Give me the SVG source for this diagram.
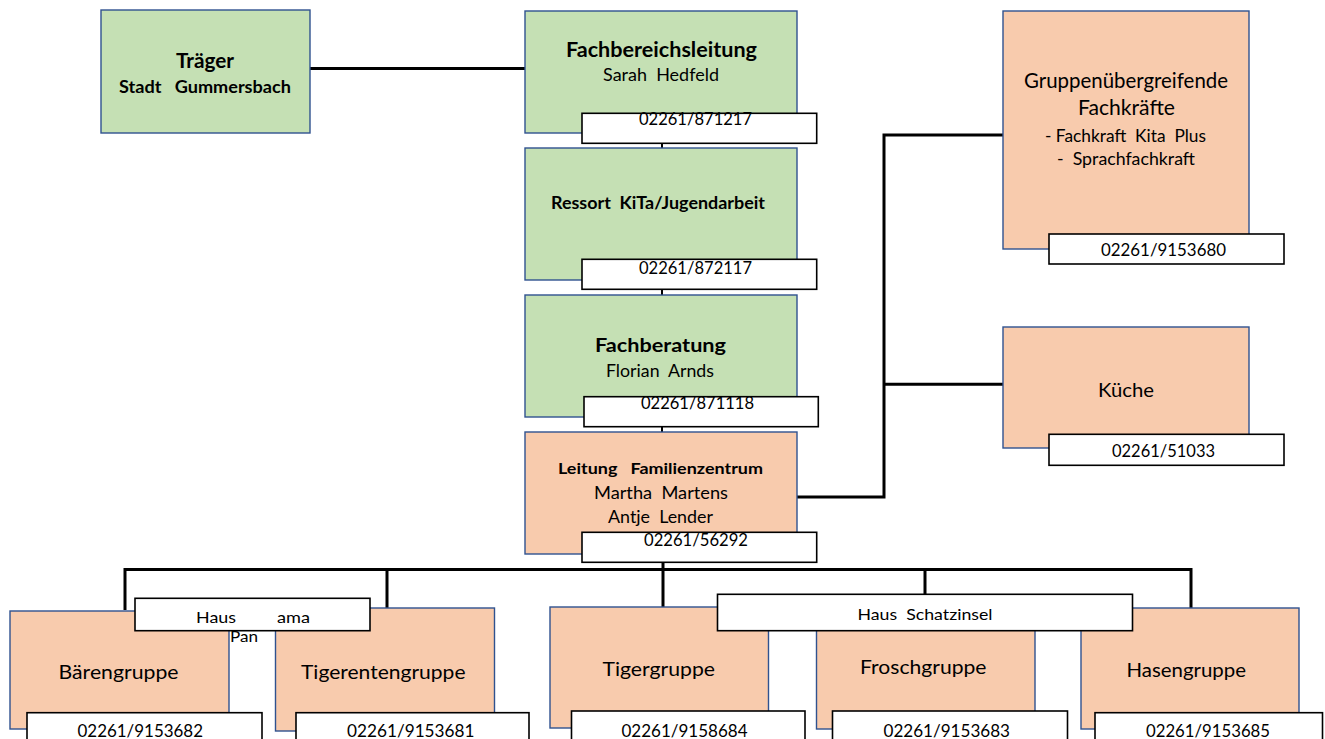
<svg xmlns="http://www.w3.org/2000/svg" width="1325" height="739" viewBox="0 0 1325 739">
<style>
  .g { fill: #C5E0B4; stroke: #2F528F; stroke-width: 1.4; }
  .o { fill: #F8CBAD; stroke: #2F528F; stroke-width: 1.4; }
  .p { fill: #FFFFFF; stroke: #000000; stroke-width: 1.6; }
  .c { fill: none; stroke: #000000; stroke-width: 3; }
  .c2 { fill: none; stroke: #000000; stroke-width: 2; }
  text { font-family: Lato, "Liberation Sans", sans-serif; fill: #000000; white-space: pre; }
  .b { font-weight: bold; }
  .ph { font-size: 17.5px; }
  .grp { font-size: 18.5px; }
</style>
<rect width="1325" height="739" fill="#FFFFFF"/>
<g id="connectors">
  <path class="c" d="M310 68.5 H525"/>
  <path class="c2" d="M662 143 V148 M662 289 V295 M662 426 V432"/>
  <path class="c" d="M663 562 V570"/>
  <path class="c" d="M797 497 H884 V135 H1003 M884 384.3 H1003"/>
  <path class="c" d="M125 610 V569.5 H1191 V608 M387 569.5 V608 M663 569.5 V607 M925 569.5 V594.3"/>
</g>
<g id="traeger">
  <rect class="g" x="101" y="10" width="209" height="123"/>
  <text class="b" x="176" y="68" font-size="20.5" textLength="58" lengthAdjust="spacingAndGlyphs">Träger</text>
  <text class="b" x="119" y="93" font-size="16.5" textLength="172" lengthAdjust="spacingAndGlyphs">Stadt   Gummersbach</text>
</g>
<g id="fachbereichsleitung">
  <rect class="g" x="525" y="11" width="272" height="122"/>
  <text class="b" x="566" y="57" font-size="20" textLength="191" lengthAdjust="spacingAndGlyphs">Fachbereichsleitung</text>
  <text x="603" y="81" font-size="18" textLength="116" lengthAdjust="spacingAndGlyphs">Sarah  Hedfeld</text>
  <rect class="p" x="582" y="113.3" width="234.7" height="30"/>
  <text class="ph" x="639" y="125" textLength="113" lengthAdjust="spacingAndGlyphs">02261/871217</text>
</g>
<g id="ressort">
  <rect class="g" x="525" y="148" width="272" height="132"/>
  <text class="b" x="551" y="209" font-size="16.5" textLength="214" lengthAdjust="spacingAndGlyphs">Ressort  KiTa/Jugendarbeit</text>
  <rect class="p" x="582" y="259.3" width="234.7" height="30"/>
  <text class="ph" x="639" y="274" textLength="113" lengthAdjust="spacingAndGlyphs">02261/872117</text>
</g>
<g id="fachberatung">
  <rect class="g" x="525" y="295" width="272" height="122"/>
  <text class="b" x="595" y="352" font-size="19.5" textLength="131" lengthAdjust="spacingAndGlyphs">Fachberatung</text>
  <text x="606" y="377" font-size="18" textLength="108" lengthAdjust="spacingAndGlyphs">Florian  Arnds</text>
  <rect class="p" x="584" y="396.7" width="234.3" height="30"/>
  <text class="ph" x="641" y="409" textLength="113" lengthAdjust="spacingAndGlyphs">02261/871118</text>
</g>
<g id="leitung">
  <rect class="o" x="525" y="432" width="272" height="122"/>
  <text class="b" x="558" y="474" font-size="16" textLength="205" lengthAdjust="spacingAndGlyphs">Leitung   Familienzentrum</text>
  <text x="594" y="499" font-size="18" textLength="134" lengthAdjust="spacingAndGlyphs">Martha  Martens</text>
  <text x="608" y="523" font-size="18" textLength="105" lengthAdjust="spacingAndGlyphs">Antje  Lender</text>
  <rect class="p" x="582" y="532.3" width="234.7" height="30"/>
  <text class="ph" x="644" y="546" textLength="104" lengthAdjust="spacingAndGlyphs">02261/56292</text>
</g>
<g id="gruppenuebergreifend">
  <rect class="o" x="1003" y="11" width="246" height="238"/>
  <text x="1024" y="88" font-size="21" textLength="204" lengthAdjust="spacingAndGlyphs">Gruppenübergreifende</text>
  <text x="1078" y="115" font-size="21" textLength="97" lengthAdjust="spacingAndGlyphs">Fachkräfte</text>
  <text x="1045" y="142" font-size="17.5" textLength="161" lengthAdjust="spacingAndGlyphs">- Fachkraft  Kita  Plus</text>
  <text x="1057" y="165" font-size="17.5" textLength="138" lengthAdjust="spacingAndGlyphs">-  Sprachfachkraft</text>
  <rect class="p" x="1049" y="234" width="235" height="30"/>
  <text class="ph" x="1101" y="256" textLength="125" lengthAdjust="spacingAndGlyphs">02261/9153680</text>
</g>
<g id="kueche">
  <rect class="o" x="1003" y="327" width="246" height="121"/>
  <text x="1098" y="397" font-size="19.5" textLength="56" lengthAdjust="spacingAndGlyphs">Küche</text>
  <rect class="p" x="1049" y="434.3" width="235" height="31"/>
  <text class="ph" x="1112" y="457" textLength="103" lengthAdjust="spacingAndGlyphs">02261/51033</text>
</g>
<g id="baerengruppe">
  <rect class="o" x="10" y="611" width="219" height="118"/>
  <text class="grp" x="58.5" y="679" textLength="120" lengthAdjust="spacingAndGlyphs">Bärengruppe</text>
  <rect class="p" x="27" y="712.7" width="235" height="32"/>
  <text class="ph" x="77.5" y="737" textLength="125.5" lengthAdjust="spacingAndGlyphs">02261/9153682</text>
</g>
<g id="tigerentengruppe">
  <rect class="o" x="275.5" y="608" width="219" height="123"/>
  <text class="grp" x="301" y="679" textLength="164.5" lengthAdjust="spacingAndGlyphs">Tigerentengruppe</text>
  <rect class="p" x="296" y="712.7" width="233" height="32"/>
  <text class="ph" x="347" y="737" textLength="127.5" lengthAdjust="spacingAndGlyphs">02261/9153681</text>
</g>
<g id="haus-panama">
  <rect class="p" x="135" y="598.3" width="235" height="32.4"/>
  <text x="196" y="623" font-size="15" textLength="40" lengthAdjust="spacingAndGlyphs">Haus</text>
  <text x="277" y="623" font-size="15" textLength="33" lengthAdjust="spacingAndGlyphs">ama</text>
  <text x="230" y="642" font-size="15" textLength="28" lengthAdjust="spacingAndGlyphs">Pan</text>
</g>
<g id="tigergruppe">
  <rect class="o" x="550" y="607" width="218.5" height="121"/>
  <text class="grp" x="602.5" y="676" textLength="112.5" lengthAdjust="spacingAndGlyphs">Tigergruppe</text>
  <rect class="p" x="571.5" y="711" width="233.5" height="32"/>
  <text class="ph" x="621.5" y="737" textLength="126" lengthAdjust="spacingAndGlyphs">02261/9158684</text>
</g>
<g id="froschgruppe">
  <rect class="o" x="816.5" y="607" width="218.5" height="122"/>
  <text class="grp" x="860" y="674" textLength="126.5" lengthAdjust="spacingAndGlyphs">Froschgruppe</text>
  <rect class="p" x="832.5" y="711" width="235" height="32"/>
  <text class="ph" x="883.5" y="737" textLength="126.5" lengthAdjust="spacingAndGlyphs">02261/9153683</text>
</g>
<g id="hasengruppe">
  <rect class="o" x="1081" y="608" width="218" height="121"/>
  <text class="grp" x="1126.5" y="677" textLength="119.5" lengthAdjust="spacingAndGlyphs">Hasengruppe</text>
  <rect class="p" x="1095" y="712.7" width="227.5" height="32"/>
  <text class="ph" x="1146" y="737" textLength="124" lengthAdjust="spacingAndGlyphs">02261/9153685</text>
</g>
<g id="haus-schatzinsel">
  <rect class="p" x="717.5" y="594.3" width="415" height="36.4"/>
  <text x="857.5" y="620" font-size="15" textLength="135" lengthAdjust="spacingAndGlyphs">Haus  Schatzinsel</text>
</g>
</svg>
